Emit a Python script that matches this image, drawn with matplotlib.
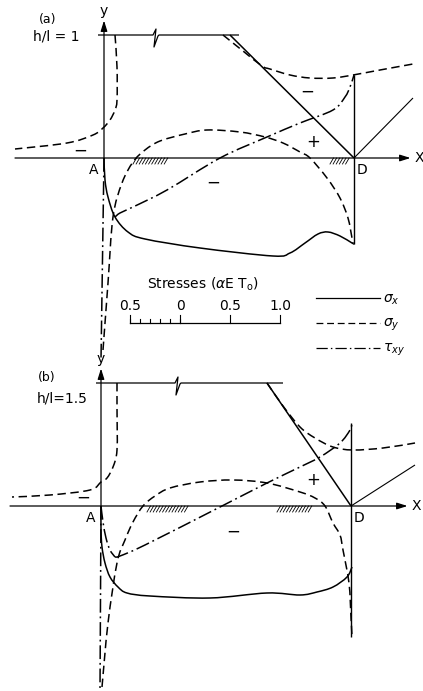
import numpy as np
import matplotlib
matplotlib.use("Agg")
import matplotlib.pyplot as plt
from matplotlib.path import Path
from matplotlib.patches import PathPatch

plt.rcParams['font.family'] = ['DejaVu Sans']
plt.rcParams['mathtext.fontset'] = 'dejavusans'

# Coordinates: x along the base in % of l (A = 0, D = 100), y in the same units.
# Stress curves are plotted about the boundaries; 1.0 alpha*E*T0 = 40 units.

# ---------------- panel (a), h/l = 1 ----------------
a_sx_x = [0, 0.4, 1.6, 4.4, 9.6, 16.4, 38.4, 67.6, 74.4, 80.4, 85.6, 89.6, 94.4, 99.2, 100]
a_sx_y = [0, -8.8, -15.6, -23.6, -29.6, -32.4, -36, -39.2, -38, -34, -30.4, -29.6, -31.2, -34, -34.4]

a_sy_left_x = [4.4, 5.2, 5.2, 4.4, 2.4, -0.4, -4.4, -14.8, -35.6]
a_sy_left_y = [49.2, 36.4, 23.2, 19.2, 15.2, 12, 9.2, 6, 3.6]

a_sy_right_x = [47.6, 55.6, 63.2, 66.4, 74.4, 82.4, 91.6, 99.6, 110.4, 123.6]
a_sy_right_y = [49.2, 42.8, 36.8, 35.6, 33.2, 32, 32, 33.2, 35.2, 37.6]

a_sy_base_x = [-0.4, 1.6, 3.6, 7.2, 11.6, 16.4, 22.4, 32.4, 41.2, 54.4, 64.4, 71.6, 78.4,
               82.4, 89.2, 94.4, 97.6, 99.2, 99.6]
a_sy_base_y = [-76.8, -50, -23.6, -10, -1.6, 3.2, 6.8, 9.6, 11.2, 10.4, 8.4, 6, 2.4,
               0, -8, -16, -24, -32, -34]

a_txy_x = [4.4, 6.4, 11.6, 25.2, 46.4, 65.2, 78.4, 91.6, 96.4, 98.4, 100]
a_txy_y = [-23.6, -22, -19.6, -12.8, 0, 8.4, 14, 19.2, 24.4, 28.4, 33.2]
a_txy_edge_x = [0, -1.2]
a_txy_edge_y = [0, -80.8]

a_top_x = [-2.4, 19.6, 20.8, 20.0, 21.6, 22.0, 54.0]
a_top_y = [49.2, 49.2, 51.6, 44.4, 48.8, 49.2, 49.2]
a_face_x = [50.4, 100]
a_face_y = [49.2, 0]
a_dvert_y = [33.2, -34.4]
a_ddiag_x = [100, 123.6]
a_ddiag_y = [0, 24]
a_hatch = [(11.6, 25.2), (90.4, 98.4)]

# ---------------- panel (b), h/l = 1.5 ----------------
b_sx_x = [0, 0, 0.4, 1.6, 3.6, 6.8, 10.4, 19.6, 43.6, 66.4, 79.6, 86.4, 92.8, 98.4, 100.4]
b_sx_y = [0, -9.6, -16.4, -22.8, -28.4, -32.4, -34.8, -36, -36.8, -34.8, -35.6, -34.4, -32.4, -28.4, -24.4]

b_sy_left_x = [6.4, 6.4, 6.4, 4.8, 2.4, 0, -4.4, -20.4, -35.6]
b_sy_left_y = [49.2, 39.6, 22.4, 15.6, 11.2, 9.6, 6.4, 4.4, 3.6]

b_sy_right_x = [66.4, 72.8, 79.6, 85.6, 92.8, 100.8, 112.8, 125.6]
b_sy_right_y = [49.2, 40, 31.6, 27.2, 23.6, 22.4, 23.2, 25.2]

b_sy_base_x = [0.4, 2.8, 6.4, 9.6, 12.8, 16.8, 21.6, 27.6, 39.6, 52.8, 66.4, 79.6, 85.6,
               89.6, 92.8, 95.6, 96.8, 99.2, 100, 100.4]
b_sy_base_y = [-72.4, -46.8, -22.8, -13.6, -6.4, 0, 4, 7.2, 9.6, 10.4, 9.2, 5.6, 3.2,
               0, -6.8, -11.6, -17.6, -30.8, -44.4, -52.4]

# tau_xy near corner A (down to the cusp) and from the cusp up to D
b_txy_corner_x = [0, 0.8, 2, 3.6, 5.6]
b_txy_corner_y = [0, -6.4, -12.8, -17.6, -20.4]
b_txy_x = [5.6, 7.6, 17.6, 47.6, 66.4, 79.6, 87.6, 95.6, 99.6, 100.4]
b_txy_y = [-20.4, -20, -15.6, -0.4, 9.2, 15.6, 19.6, 25.2, 30.4, 33.2]
b_txy_edge_x = [0, -0.4]
b_txy_edge_y = [0, -74]

b_top_x = [-2.0, 29.6, 30.8, 30.0, 31.6, 32.0, 72.8]
b_top_y = [49.2, 49.2, 51.6, 44.4, 48.8, 49.2, 49.2]
b_face_x = [66.4, 100]
b_face_y = [49.2, 0]
b_dvert_y = [33.2, -52.4]
b_ddiag_x = [100, 125.6]
b_ddiag_y = [0, 16.4]
b_hatch = [(18.4, 35.6), (70.4, 84.8)]

# stress scale (alpha E T0)
scale_minor = [-0.5, -0.4, -0.3, -0.2, -0.1, 0.0]
scale_major = [-0.5, 0.0, 0.5, 1.0]
scale_labels = ['0.5', '0', '0.5', '1.0']

LW = 1.1
DASH = (0, (5.5, 3))
DASHDOT = (0, (9, 2.5, 1.2, 2.5))


def smooth_path(x, y):
    """Catmull-Rom curve through the points, as cubic Bezier segments."""
    p = np.column_stack([x, y]).astype(float)
    if len(p) < 3:
        return Path(p)
    ext = np.vstack([p[0], p, p[-1]])
    verts = [p[0]]
    codes = [Path.MOVETO]
    for i in range(1, len(ext) - 2):
        p0, p1, p2, p3 = ext[i - 1], ext[i], ext[i + 1], ext[i + 2]
        c1 = p1 + (p2 - p0) / 6.0
        c2 = p2 - (p3 - p1) / 6.0
        verts += [c1, c2, p2]
        codes += [Path.CURVE4] * 3
    return Path(np.array(verts), codes)


def curve(ax, x, y, ls='-', lw=LW):
    ax.add_patch(PathPatch(smooth_path(x, y), fill=False, edgecolor='k', lw=lw,
                           linestyle=ls, clip_on=False, capstyle='butt'))


def line(ax, x, y, lw=1.0, ls='-'):
    ax.plot(x, y, color='k', lw=lw, ls=ls, clip_on=False, solid_capstyle='butt')


def arrow(ax, start, end):
    ax.annotate('', xy=end, xytext=start,
                arrowprops=dict(arrowstyle='-|>,head_length=0.7,head_width=0.22',
                                lw=0.9, color='k', shrinkA=0, shrinkB=0,
                                mutation_scale=9))


def hatch(ax, spans):
    for u0, u1 in spans:
        for s in np.arange(u0, u1 - 1.0, 1.25):
            ax.plot([s, s + 1.4], [-2.4, 0], color='k', lw=0.6)


def draw_panel(ax, x_left, geom, curves, signs):
    top_x, top_y, face_x, face_y, dvert_y, ddiag_x, ddiag_y, spans = geom
    arrow(ax, (x_left, 0), (122.6, 0))
    ax.text(126.0, 0, 'X', ha='center', va='center', fontsize=10)
    arrow(ax, (0, 0), (0, 55.0))
    ax.text(0, 59.0, 'y', ha='center', va='center', fontsize=10)
    ax.text(-4.0, -5.0, 'A', ha='center', va='center', fontsize=10)
    ax.text(103.2, -5.0, 'D', ha='center', va='center', fontsize=10)
    # section outline
    line(ax, top_x, top_y, lw=0.9)
    line(ax, face_x, face_y, lw=1.1)
    line(ax, [100, 100], dvert_y, lw=1.0)
    line(ax, ddiag_x, ddiag_y, lw=0.8)
    hatch(ax, spans)
    for x, y, ls in curves:
        curve(ax, x, y, ls=ls)
    for x, y, s in signs:
        ax.text(x, y, s, ha='center', va='center', fontsize=12)


fig = plt.figure(figsize=(4.23, 6.91), dpi=100)
ax_a = fig.add_axes([0, 1 - 372 / 691, 1, 372 / 691])
ax_a.set_xlim(-41.6, 127.6)
ax_a.set_ylim(-85.6, 63.2)
ax_b = fig.add_axes([0, 0, 1, 346 / 691])
ax_b.set_xlim(-40.4, 128.8)
ax_b.set_ylim(-74.0, 64.4)
for ax in (ax_a, ax_b):
    ax.set_axis_off()
    ax.patch.set_alpha(0)

draw_panel(ax_a, -35.6,
           (a_top_x, a_top_y, a_face_x, a_face_y, a_dvert_y, a_ddiag_x, a_ddiag_y, a_hatch),
           [(a_sx_x, a_sx_y, '-'),
            (a_sy_left_x, a_sy_left_y, DASH),
            (a_sy_right_x, a_sy_right_y, DASH),
            (a_sy_base_x, a_sy_base_y, DASH),
            (a_txy_x, a_txy_y, DASHDOT),
            (a_txy_edge_x, a_txy_edge_y, DASHDOT)],
           [(-9.6, 2.8, '\u2212'), (81.2, 26.4, '\u2212'), (83.6, 6.4, '+'), (43.6, -10.0, '\u2212')])
ax_a.text(-22.5, 55.6, '(a)', ha='center', va='center', fontsize=9)
ax_a.text(-19.0, 48.6, 'h/l = 1', ha='center', va='center', fontsize=10)

draw_panel(ax_b, -36.4,
           (b_top_x, b_top_y, b_face_x, b_face_y, b_dvert_y, b_ddiag_x, b_ddiag_y, b_hatch),
           [(b_sx_x, b_sx_y, '-'),
            (b_sy_left_x, b_sy_left_y, DASH),
            (b_sy_right_x, b_sy_right_y, DASH),
            (b_sy_base_x, b_sy_base_y, DASH),
            (b_txy_corner_x, b_txy_corner_y, DASHDOT),
            (b_txy_x, b_txy_y, DASHDOT),
            (b_txy_edge_x, b_txy_edge_y, DASHDOT)],
           [(-7.2, 3.2, '\u2212'), (84.8, 10.4, '+'), (52.8, -10.4, '\u2212')])
ax_b.text(-21.6, 51.6, '(b)', ha='center', va='center', fontsize=9)
ax_b.text(-15.6, 43.2, 'h/l=1.5', ha='center', va='center', fontsize=10)


# stress scale bar (0 at x = 30.4, 40 units per alpha E T0)
def sx(s):
    return 30.4 + 40 * s


bar_y = -66.0
ax_a.plot([sx(scale_major[0]), sx(scale_major[-1])], [bar_y, bar_y], color='k', lw=0.9)
for s in scale_minor:
    ax_a.plot([sx(s), sx(s)], [bar_y, bar_y + 1.6], color='k', lw=0.8)
for s, lab in zip(scale_major, scale_labels):
    ax_a.plot([sx(s), sx(s)], [bar_y, bar_y + 3.2], color='k', lw=0.8)
    ax_a.text(sx(s), -59.2, lab, ha='center', va='center', fontsize=10)
ax_a.text(39.6, -50.4, r'Stresses ($\alpha$E T$_{\rm o}$)', ha='center', va='center', fontsize=10)

# key to line styles
legend_rows = [(-56.0, '-', r'$\sigma_x$'), (-66.0, DASH, r'$\sigma_y$'), (-76.0, DASHDOT, r'$\tau_{xy}$')]
for y, ls, lab in legend_rows:
    ax_a.plot([84.8, 110.4], [y, y], color='k', ls=ls, lw=0.9)
    ax_a.text(111.4, y - 0.8, lab, ha='left', va='center', fontsize=10)

fig.savefig('out.png', dpi=100)
